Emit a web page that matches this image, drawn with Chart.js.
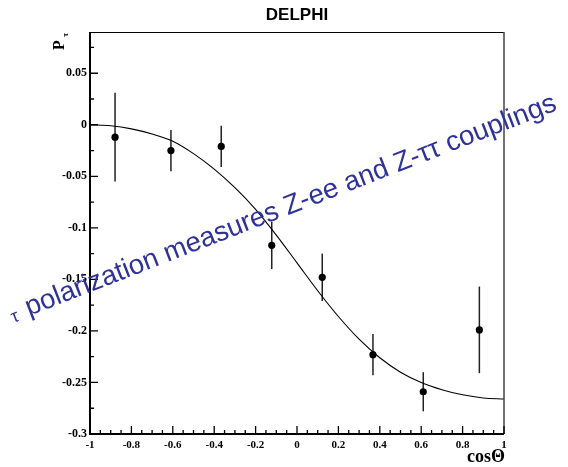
<!DOCTYPE html>
<html>
<head>
<meta charset="utf-8">
<script src="https://cdn.jsdelivr.net/npm/chart.js@4.4.1/dist/chart.umd.min.js"></script>
<style>
  html, body { margin: 0; padding: 0; background: #fff; }
  #wrap { width: 568px; height: 467px; }
</style>
</head>
<body>
<div id="wrap"><canvas id="pol"></canvas></div>
<script>
// measured points: cos(theta), P_tau and its error
var cosTheta = [-0.879, -0.609, -0.366, -0.122, 0.122, 0.367, 0.610, 0.881];
var pTau = [-0.012, -0.025, -0.021, -0.117, -0.148, -0.223, -0.259, -0.199];
var pTauErr = [0.043, 0.020, 0.020, 0.023, 0.023, 0.020, 0.019, 0.042];

// fitted curve
var fitCos = [-1, -0.9, -0.8, -0.7, -0.6, -0.5, -0.4, -0.3, -0.2, -0.1, 0,
              0.1, 0.2, 0.3, 0.4, 0.5, 0.6, 0.7, 0.8, 0.9, 1];
var fitP = [0, -0.001, -0.004, -0.009, -0.016, -0.028, -0.043, -0.061, -0.082, -0.107, -0.134,
            -0.161, -0.186, -0.208, -0.226, -0.240, -0.250, -0.257, -0.262, -0.265, -0.266];

var xTicks = [-1, -0.8, -0.6, -0.4, -0.2, 0, 0.2, 0.4, 0.6, 0.8, 1];
var xTickLabels = ['-1', '-0.8', '-0.6', '-0.4', '-0.2', '0', '0.2', '0.4', '0.6', '0.8', '1'];
var yTicks = [-0.3, -0.25, -0.2, -0.15, -0.1, -0.05, 0, 0.05];
var yTickLabels = ['-0.3', '-0.25', '-0.2', '-0.15', '-0.1', '-0.05', '0', '0.05'];

function toXY(xs, ys) {
    var out = [];
    for (var i = 0; i < xs.length; i++) out.push({ x: xs[i], y: ys[i] });
    return out;
}

// frame, inward ticks, error bars and all the text around the plot
var decorations = {
    id: 'decorations',
    beforeDatasetsDraw: function (chart) {
        var ctx = chart.ctx;
        var xs = chart.scales.x, ys = chart.scales.y;
        ctx.save();
        ctx.strokeStyle = '#222';
        ctx.lineWidth = 1.5;
        for (var i = 0; i < cosTheta.length; i++) {
            var px = xs.getPixelForValue(cosTheta[i]);
            ctx.beginPath();
            ctx.moveTo(px, ys.getPixelForValue(pTau[i] + pTauErr[i]));
            ctx.lineTo(px, ys.getPixelForValue(pTau[i] - pTauErr[i]));
            ctx.stroke();
        }
        ctx.restore();
    },
    afterDraw: function (chart) {
        var ctx = chart.ctx;
        var a = chart.chartArea;
        var xs = chart.scales.x, ys = chart.scales.y;
        ctx.save();

        // box
        ctx.strokeStyle = '#000';
        ctx.lineWidth = 1;
        ctx.beginPath();
        ctx.moveTo(a.left, a.top + 0.5);
        ctx.lineTo(a.right, a.top + 0.5);
        ctx.stroke();
        ctx.strokeStyle = '#444';
        ctx.lineWidth = 1.5;
        ctx.beginPath();
        ctx.moveTo(a.right, a.top);
        ctx.lineTo(a.right, a.bottom);
        ctx.stroke();
        ctx.strokeStyle = '#000';
        ctx.lineWidth = 2;
        ctx.beginPath();
        ctx.moveTo(a.left, a.top);
        ctx.lineTo(a.left, a.bottom);
        ctx.lineTo(a.right, a.bottom);
        ctx.stroke();

        // ticks pointing into the plot
        ctx.lineWidth = 1.3;
        ctx.beginPath();
        for (var k = 0; k <= 40; k++) {
            var xv = -1 + k * 0.05;
            var xp = xs.getPixelForValue(xv);
            var len = (k % 4 === 0) ? 8 : 4;
            ctx.moveTo(xp, a.bottom);
            ctx.lineTo(xp, a.bottom - len);
        }
        for (var j = 0; j <= 15; j++) {
            var yv = -0.3 + j * 0.025;
            var yp = ys.getPixelForValue(yv);
            var ylen = (j % 2 === 0) ? 8 : 4;
            ctx.moveTo(a.left, yp);
            ctx.lineTo(a.left + ylen, yp);
        }
        ctx.stroke();

        // title
        ctx.fillStyle = '#000';
        ctx.font = 'bold 17px "Liberation Sans"';
        ctx.textAlign = 'center';
        ctx.textBaseline = 'alphabetic';
        ctx.fillText('DELPHI', (a.left + a.right) / 2, 20);

        // x axis title
        ctx.font = 'bold 18px "Liberation Serif"';
        ctx.textAlign = 'right';
        ctx.fillText('cos\u0398', a.right + 1, 462);

        // y axis title, P with tau subscript
        ctx.save();
        ctx.translate(64, 50);
        ctx.rotate(-Math.PI / 2);
        ctx.textAlign = 'left';
        ctx.font = 'bold 16px "Liberation Serif"';
        ctx.fillText('P', 0, 0);
        ctx.font = 'bold 9px "Liberation Serif"';
        ctx.fillText('\u03c4', 13, 4);
        ctx.restore();

        // slanted annotation
        ctx.save();
        ctx.fillStyle = '#2f3399';
        ctx.translate(29, 316);
        ctx.rotate(-21.3 * Math.PI / 180);
        ctx.textAlign = 'left';
        ctx.font = '18px "Liberation Sans"';
        ctx.fillText('\u03c4', -17, 1);
        ctx.font = '27.6px "Liberation Sans"';
        ctx.fillText('polarization measures Z-ee and Z-\u03c4\u03c4 couplings', 0, 0);
        ctx.restore();

        ctx.restore();
    }
};

new Chart(document.getElementById('pol'), {
    type: 'scatter',
    data: {
        datasets: [{
            type: 'line',
            data: toXY(fitCos, fitP),
            borderColor: '#000',
            borderWidth: 1.1,
            pointRadius: 0,
            cubicInterpolationMode: 'monotone',
            fill: false
        }, {
            data: toXY(cosTheta, pTau),
            backgroundColor: '#000',
            borderColor: '#000',
            pointRadius: 3.6,
            pointBorderWidth: 0
        }]
    },
    options: {
        responsive: true,
        maintainAspectRatio: false,
        animation: false,
        events: [],
        layout: { padding: { left: 0, right: 64, top: 32, bottom: 0 } },
        plugins: {
            legend: { display: false },
            tooltip: { enabled: false }
        },
        scales: {
            x: {
                type: 'linear',
                min: -1,
                max: 1,
                afterFit: function (s) { s.height = 33; },
                afterBuildTicks: function (s) {
                    s.ticks = xTicks.map(function (v) { return { value: v }; });
                },
                grid: { display: false, drawTicks: false },
                border: { display: false },
                ticks: {
                    color: '#000',
                    font: { family: 'Liberation Serif', weight: 'bold', size: 11 },
                    padding: 5,
                    maxRotation: 0,
                    autoSkip: false,
                    callback: function (v) { return xTickLabels[xTicks.indexOf(v)]; }
                }
            },
            y: {
                type: 'linear',
                min: -0.3,
                max: 0.09,
                afterFit: function (s) { s.width = 90; },
                afterBuildTicks: function (s) {
                    s.ticks = yTicks.map(function (v) { return { value: v }; });
                },
                grid: { display: false, drawTicks: false },
                border: { display: false },
                ticks: {
                    color: '#000',
                    font: { family: 'Liberation Serif', weight: 'bold', size: 12 },
                    padding: 3,
                    autoSkip: false,
                    callback: function (v) { return yTickLabels[yTicks.indexOf(v)]; }
                }
            }
        }
    },
    plugins: [decorations]
});
</script>
</body>
</html>
